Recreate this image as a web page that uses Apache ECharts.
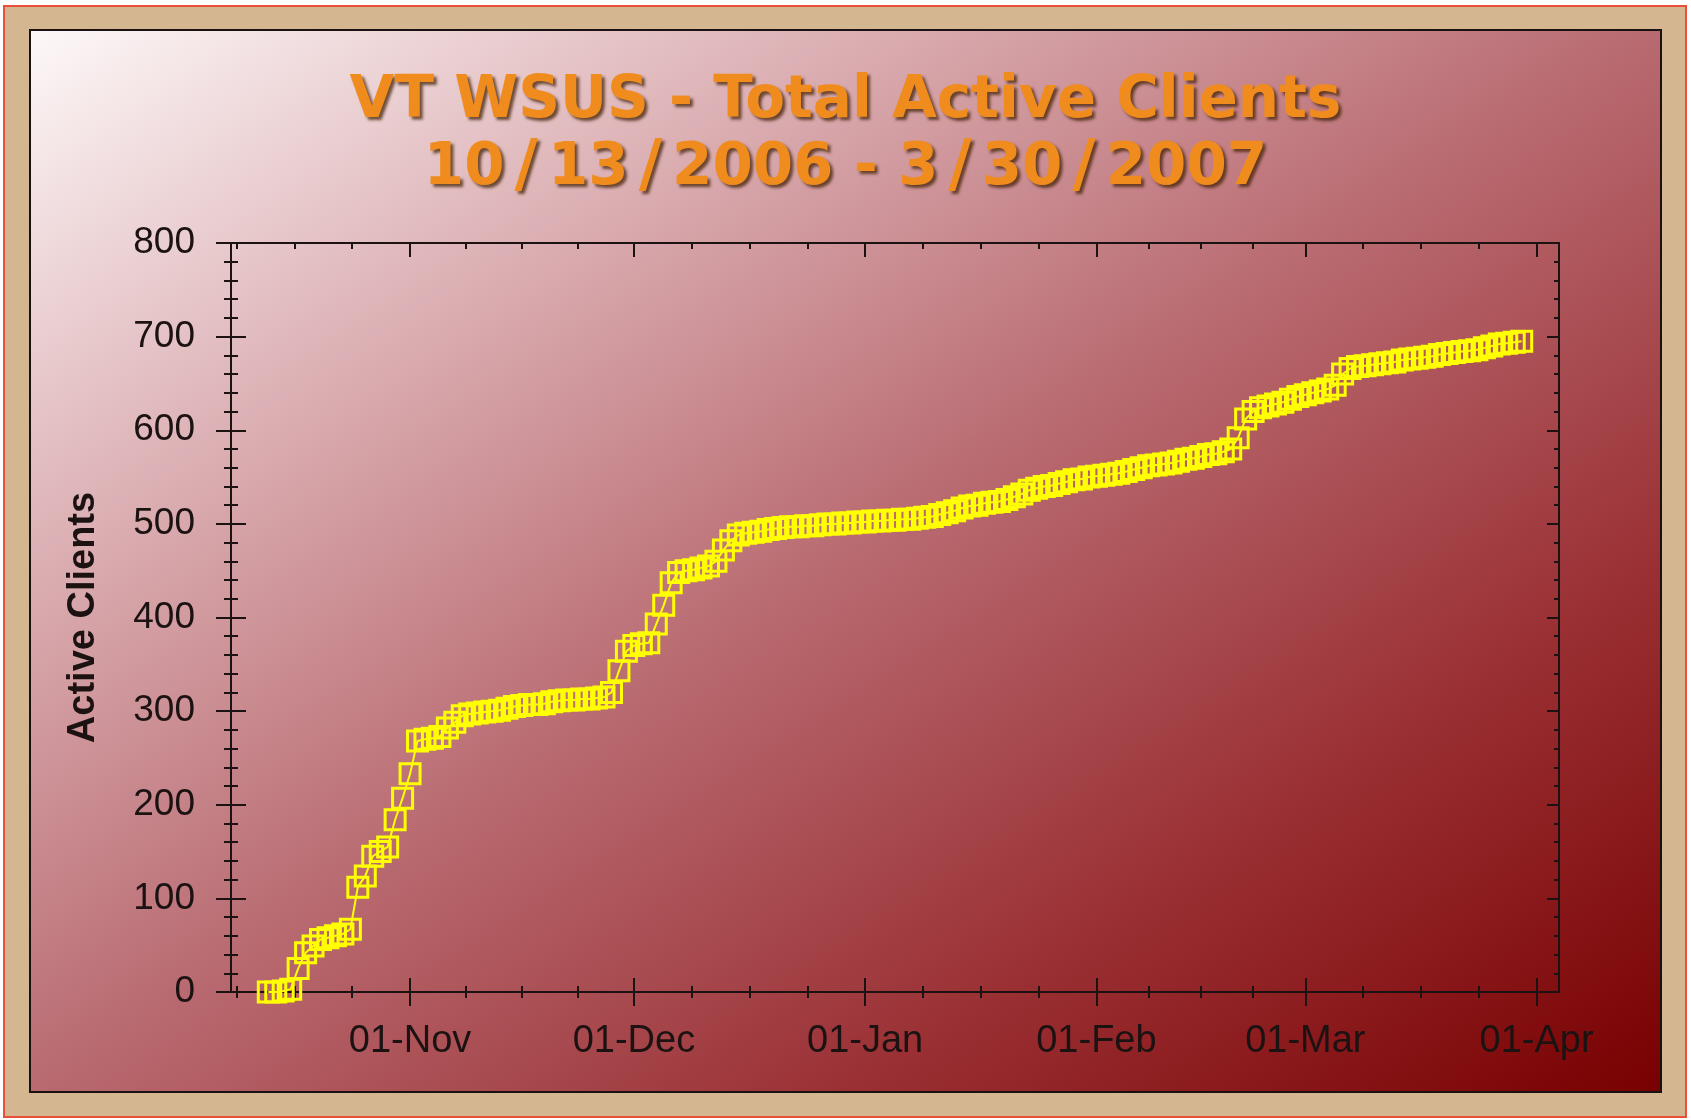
<!DOCTYPE html>
<html>
<head>
<meta charset="utf-8">
<title>VT WSUS - Total Active Clients</title>
<script src="https://cdn.jsdelivr.net/npm/echarts@6/dist/echarts.min.js"></script>
<style>
    html, body { margin: 0; padding: 0; background: #ffffff; }
    #frame {
        position: absolute; left: 3px; top: 5px; width: 1680px; height: 1109px;
        border: 2px solid #e8503a; background: #d4b690;
    }
    #panel {
        position: absolute; left: 29px; top: 29px; width: 1629px; height: 1060px;
        border: 2px solid #1a1212;
        background: linear-gradient(to bottom right, #fdf8f8 0%, #dcb0b4 25%, #b86a70 50%, #9a3034 75%, #780000 100%);
    }
    #chart { position: absolute; left: 0; top: 0; width: 1691px; height: 1120px; }
</style>
</head>
<body>
<div id="frame"></div>
<div id="panel"></div>
<div id="chart"></div>
<script>
    const firstDay = '2006-10-13';
    // active clients per day, 10/13/2006 .. 3/30/2007
    const activeClients = [
        0, 0, 1, 3, 25, 42, 49, 56, 58, 60, 62, 67, 112, 124, 145, 150, 155, 184, 207,
        233, 268, 270, 271, 273, 282, 288, 295, 297, 298, 299, 300, 301, 303, 305,
        306, 307, 307, 308, 310, 311, 312, 312, 313, 313, 314, 315, 320, 343, 364,
        370, 372, 373, 393, 413, 437, 448, 450, 451, 453, 455, 460, 472, 482, 488,
        490, 491, 492, 494, 495, 496, 497, 497, 498, 498, 499, 500, 500, 501, 501, 502,
        502, 503, 503, 504, 504, 505, 505, 506, 507, 508, 510, 512, 514, 517, 519,
        520, 522, 523, 524, 526, 529, 532, 536, 538, 540, 541, 543, 545, 547, 548, 550,
        551, 552, 553, 554, 556, 558, 560, 562, 563, 564, 565, 567, 569, 570, 572,
        574, 575, 577, 580, 592, 612, 620, 624, 626, 628, 630, 633, 636,
        638, 640, 642, 644, 648, 660, 666, 668, 669, 670, 671, 672, 673, 675, 676,
        677, 678, 679, 681, 682, 683, 684, 685, 686, 688, 690, 692, 693, 694, 695
    ];
    const monthTicks = ['2006-10-01', '2006-11-01', '2006-12-01', '2007-01-01', '2007-02-01', '2007-03-01', '2007-04-01'];
    const monthLabels = ['01-Oct', '01-Nov', '01-Dec', '01-Jan', '01-Feb', '01-Mar', '01-Apr'];
    const xRange = ['2006-10-08', '2007-04-04'];
    const yTicks = [0, 100, 200, 300, 400, 500, 600, 700, 800];

    const DAY = 86400000;
    const toMs = s => Date.UTC(+s.slice(0, 4), +s.slice(5, 7) - 1, +s.slice(8, 10));
    const xMin = toMs(xRange[0]);
    const xMax = toMs(xRange[1]);
    const inRange = v => v >= xMin && v <= xMax;

    const majorX = monthTicks.map(toMs).filter(inRange);
    // each month split in four for the small ticks
    const minorX = [];
    for (let i = 0; i + 1 < monthTicks.length; i++) {
        const a = toMs(monthTicks[i]), b = toMs(monthTicks[i + 1]);
        for (let k = 1; k < 4; k++) minorX.push(a + (b - a) * k / 4);
    }
    const minorXIn = minorX.filter(inRange);

    const start = toMs(firstDay);
    const seriesData = activeClients.map((v, i) => [start + i * DAY, v]);

    const ink = '#1c1212';
    const font = 'Arial, "Liberation Sans", sans-serif';
    const titleFont = {
        fontFamily: '"DejaVu Sans", Verdana, sans-serif',
        fontWeight: 'bold',
        fontSize: 58,
        lineHeight: 67,
        color: '#f08c1e',
        textShadowColor: 'rgba(70, 35, 5, 0.75)',
        textShadowOffsetX: 3,
        textShadowOffsetY: 3,
        textShadowBlur: 3
    };

    const xBase = {
        type: 'value', min: xMin, max: xMax, gridIndex: 0,
        splitLine: {show: false},
        axisLine: {show: false, onZero: false, lineStyle: {color: ink, width: 2}},
        axisTick: {show: false},
        axisLabel: {show: false}
    };
    const yBase = {
        type: 'value', min: 0, max: 800, interval: 100, gridIndex: 0,
        splitLine: {show: false},
        axisLine: {show: false, onZero: false, lineStyle: {color: ink, width: 2}},
        axisTick: {show: false},
        axisLabel: {show: false}
    };

    const chart = echarts.init(document.getElementById('chart'));
    chart.setOption({
        animation: false,
        backgroundColor: 'transparent',
        title: {
            // verdana draws a wide slash, pad it out a little
            text: 'VT WSUS - Total Active Clients\n10{s|/}13{s|/}2006 - 3{s|/}30{s|/}2007',
            left: 'center',
            top: 63,
            textStyle: Object.assign({}, titleFont, {
                rich: {s: Object.assign({}, titleFont, {fontSize: 64, padding: [0, 10]})}
            })
        },
        grid: {left: 231, right: 132, top: 243, bottom: 128, outerBoundsMode: 'none'},
        xAxis: [
            // bottom line + labels
            Object.assign({}, xBase, {
                position: 'bottom',
                axisLine: {show: true, onZero: false, lineStyle: {color: ink, width: 2}},
                axisLabel: {
                    show: true, margin: 31, fontSize: 38, fontFamily: font, color: ink,
                    customValues: majorX,
                    formatter: v => monthLabels[monthTicks.map(toMs).indexOf(v)]
                }
            }),
            // bottom major ticks, crossing the line
            Object.assign({}, xBase, {
                position: 'bottom', offset: -14,
                axisTick: {show: true, length: 28, customValues: majorX, lineStyle: {color: ink, width: 2}}
            }),
            // bottom minor ticks, crossing the line
            Object.assign({}, xBase, {
                position: 'bottom', offset: -6,
                axisTick: {show: true, length: 12, customValues: minorXIn, lineStyle: {color: ink, width: 2}}
            }),
            // top line + major ticks
            Object.assign({}, xBase, {
                position: 'top',
                axisLine: {show: true, onZero: false, lineStyle: {color: ink, width: 2}},
                axisTick: {show: true, inside: true, length: 14, customValues: majorX, lineStyle: {color: ink, width: 2}}
            }),
            Object.assign({}, xBase, {
                position: 'top',
                axisTick: {show: true, inside: true, length: 6, customValues: minorXIn, lineStyle: {color: ink, width: 2}}
            })
        ],
        yAxis: [
            Object.assign({}, yBase, {
                position: 'left',
                name: 'Active Clients',
                nameLocation: 'middle',
                nameGap: 128,
                nameTextStyle: {fontSize: 38, fontWeight: 'bold', fontFamily: font, color: ink},
                axisLine: {show: true, onZero: false, lineStyle: {color: ink, width: 2}},
                axisLabel: {
                    show: true, margin: 36, fontSize: 37, fontFamily: font, color: ink,
                    customValues: yTicks
                }
            }),
            Object.assign({}, yBase, {
                position: 'left', offset: -15,
                axisTick: {show: true, length: 30, lineStyle: {color: ink, width: 2}}
            }),
            Object.assign({}, yBase, {
                position: 'left', offset: -7,
                minorTick: {show: true, splitNumber: 5, length: 14, lineStyle: {color: ink, width: 2}}
            }),
            Object.assign({}, yBase, {
                position: 'right',
                axisLine: {show: true, onZero: false, lineStyle: {color: ink, width: 2}},
                axisTick: {show: true, inside: true, length: 12, lineStyle: {color: ink, width: 2}},
                minorTick: {show: true, splitNumber: 5, length: 5, lineStyle: {color: ink, width: 2}}
            })
        ],
        series: [{
            name: 'Active Clients',
            type: 'line',
            xAxisIndex: 0,
            yAxisIndex: 0,
            data: seriesData,
            symbol: 'rect',
            symbolSize: 20,
            itemStyle: {color: 'rgba(0,0,0,0)', borderColor: '#ffff00', borderWidth: 3},
            lineStyle: {color: '#ffff00', width: 2},
            emphasis: {disabled: true},
            z: 3
        }]
    });
</script>
</body>
</html>
